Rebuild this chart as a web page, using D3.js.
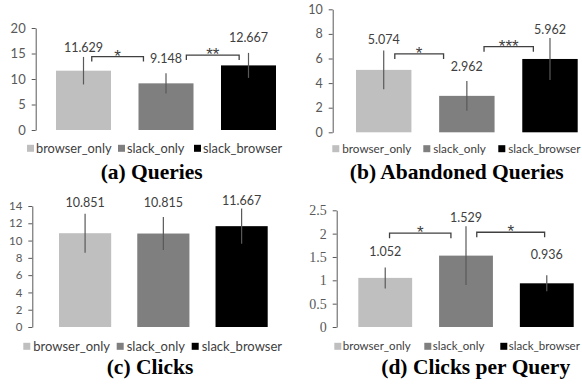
<!DOCTYPE html>
<html>
<head>
<meta charset="utf-8">
<script src="https://cdn.jsdelivr.net/npm/d3@7"></script>
<style>
  body { margin: 0; background: #fff; }
  svg { display: block; }
  .tick text { font-family: Lato, sans-serif; fill: #595959; }
  .val { font-family: Lato, sans-serif; font-size: 12.5px; fill: #404040; }
  .leg { font-family: Lato, sans-serif; fill: #404040; }
  .star { font-family: "Liberation Sans", sans-serif; font-size: 17px; fill: #404040; }
  .title { font-family: "Liberation Serif", serif; font-size: 21.5px; font-weight: bold; fill: #000; }
</style>
</head>
<body>
<div id="chart"></div>
<script>
const groups = ["browser_only", "slack_only", "slack_browser"];
const colors = ["#bfbfbf", "#7f7f7f", "#000000"];

const queries = [11.629, 9.148, 12.667];
const queriesErr = [2.7, 2.0, 2.45];
const abandoned = [5.074, 2.962, 5.962];
const abandonedErr = [1.57, 1.2, 1.7];
const clicks = [10.851, 10.815, 11.667];
const clicksErr = [2.25, 1.9, 2.03];
const cpq = [1.052, 1.529, 0.936];
const cpqErr = [0.225, 0.63, 0.17];

const queriesSig = [{from: 0, to: 1, level: 14.4, mark: "*"}, {from: 1, to: 2, level: 14.7, mark: "**"}];
const abandonedSig = [{from: 0, to: 1, level: 6.37, mark: "*"}, {from: 1, to: 2, level: 6.96, mark: "***"}];
const cpqSig = [{from: 0, to: 1, level: 2.01, mark: "*"}, {from: 1, to: 2, level: 2.03, mark: "*"}];

const titles = ["(a) Queries", "(b) Abandoned Queries", "(c) Clicks", "(d) Clicks per Query"];

// layout of each little chart, in page pixels
const panels = [
  {vals: queries, err: queriesErr, sig: queriesSig, title: titles[0],
   max: 20, step: 5, axisX: 35.7, y0: 130, yTop: 28, bx: [56, 276], tickFont: "13px Lato, sans-serif",
   gaps: [5, 10, 10.5], u: [[0.65, 0.09], [0.87, 0.33]],
   leg: 148.3, legX: [27, 118, 194], legDx: 9, legSize: 12.8, tx: 151.7, ty: 178.5},
  {vals: abandoned, err: abandonedErr, sig: abandonedSig, title: titles[1],
   max: 10, step: 2, axisX: 332.7, y0: 132.3, yTop: 9.3, bx: [356, 577.7], tickFont: "12.5px Lato, sans-serif",
   gaps: [7, 10.5, 4.5], u: [[0.70, 0.08], [0.81, 0.2]],
   leg: 148.7, legX: [332.3, 423.3, 498.3], legDx: 10, legSize: 11.7, tx: 456.8, ty: 178.5},
  {vals: clicks, err: clicksErr, sig: [], title: titles[2],
   max: 14, step: 2, axisX: 32.3, y0: 327, yTop: 206, bx: [59, 267.7], tickFont: "11.5px Lato, sans-serif",
   gaps: [7, 10.5, 4], u: [],
   leg: 346.3, legX: [23.3, 116.7, 191.7], legDx: 10, legSize: 13, tx: 150, ty: 373.5},
  {vals: cpq, err: cpqErr, sig: cpqSig, title: titles[3],
   max: 2.5, step: 0.5, axisX: 336.7, y0: 327, yTop: 210.3, bx: [358.3, 573.7], tickFont: "14px 'Liberation Serif', serif",
   gaps: [11, 4.5, 16], u: [[0.58, 0.22], [0.70, 0.46]],
   leg: 346.3, legX: [334.3, 424.3, 500.3], legDx: 8.5, legSize: 11.5, tx: 475.7, ty: 373.5}
];

const svg = d3.select("#chart").append("svg")
  .attr("width", 582).attr("height", 385);

panels.forEach(p => {
  const g = svg.append("g");
  const y = d3.scaleLinear().domain([0, p.max]).range([p.y0, p.yTop]);
  // band with inner padding 1/3, outer padding 1/6 -> bars land on bx
  const stepW = (p.bx[1] - p.bx[0]) / (3 - 1 / 3);
  const x = d3.scaleBand().domain(groups)
    .range([p.bx[0] - stepW / 6, p.bx[1] + stepW / 6])
    .paddingInner(1 / 3).paddingOuter(1 / 6);
  const bw = x.bandwidth();

  const ax = g.append("g")
    .attr("transform", `translate(${p.axisX},0)`)
    .call(d3.axisLeft(y).tickValues(d3.range(0, p.max + 1e-9, p.step))
      .tickSize(4).tickSizeOuter(0).tickPadding(6)
      .tickFormat(d3.format("~g")));
  ax.select(".domain").attr("stroke", "#595959");
  ax.selectAll(".tick line").attr("stroke", "#595959");
  ax.selectAll(".tick text").style("font", p.tickFont);

  g.selectAll("rect.bar").data(groups).join("rect")
    .attr("x", d => x(d)).attr("width", bw)
    .attr("y", (d, i) => y(p.vals[i]))
    .attr("height", (d, i) => y(0) - y(p.vals[i]))
    .attr("fill", (d, i) => colors[i]);

  g.selectAll("line.err").data(groups).join("line")
    .attr("x1", d => x(d) + bw / 2).attr("x2", d => x(d) + bw / 2)
    .attr("y1", (d, i) => y(p.vals[i] + p.err[i]))
    .attr("y2", (d, i) => y(p.vals[i] - p.err[i]))
    .attr("stroke", "#595959").attr("stroke-width", 1.2);

  g.selectAll("text.val").data(groups).join("text")
    .attr("class", "val").attr("text-anchor", "middle")
    .attr("x", d => x(d) + bw / 2)
    .attr("y", (d, i) => y(p.vals[i] + p.err[i]) - p.gaps[i])
    .text((d, i) => p.vals[i].toFixed(3));

  p.sig.forEach((s, k) => {
    const x0 = x(groups[s.from]) + p.u[k][0] * bw;
    const x1 = x(groups[s.to]) + p.u[k][1] * bw;
    const yy = y(s.level);
    g.append("path")
      .attr("d", `M${x0},${yy + 5}V${yy}H${x1}V${yy + 5}`)
      .attr("fill", "none").attr("stroke", "#404040").attr("stroke-width", 1.3);
    g.append("text").attr("class", "star").attr("text-anchor", "middle")
      .attr("x", (x0 + x1) / 2).attr("y", yy + 5).text(s.mark);
  });

  // legend
  const leg = g.append("g").attr("transform", `translate(0,${p.leg})`);
  groups.forEach((name, i) => {
    leg.append("rect").attr("x", p.legX[i]).attr("y", -3.5).attr("width", 7).attr("height", 7)
      .attr("fill", colors[i]);
    leg.append("text").attr("class", "leg").style("font-size", p.legSize + "px")
      .attr("x", p.legX[i] + p.legDx).attr("y", p.legSize * 0.36).text(name);
  });

  g.append("text").attr("class", "title").attr("text-anchor", "middle")
    .attr("x", p.tx).attr("y", p.ty).text(p.title);
});
</script>
</body>
</html>
